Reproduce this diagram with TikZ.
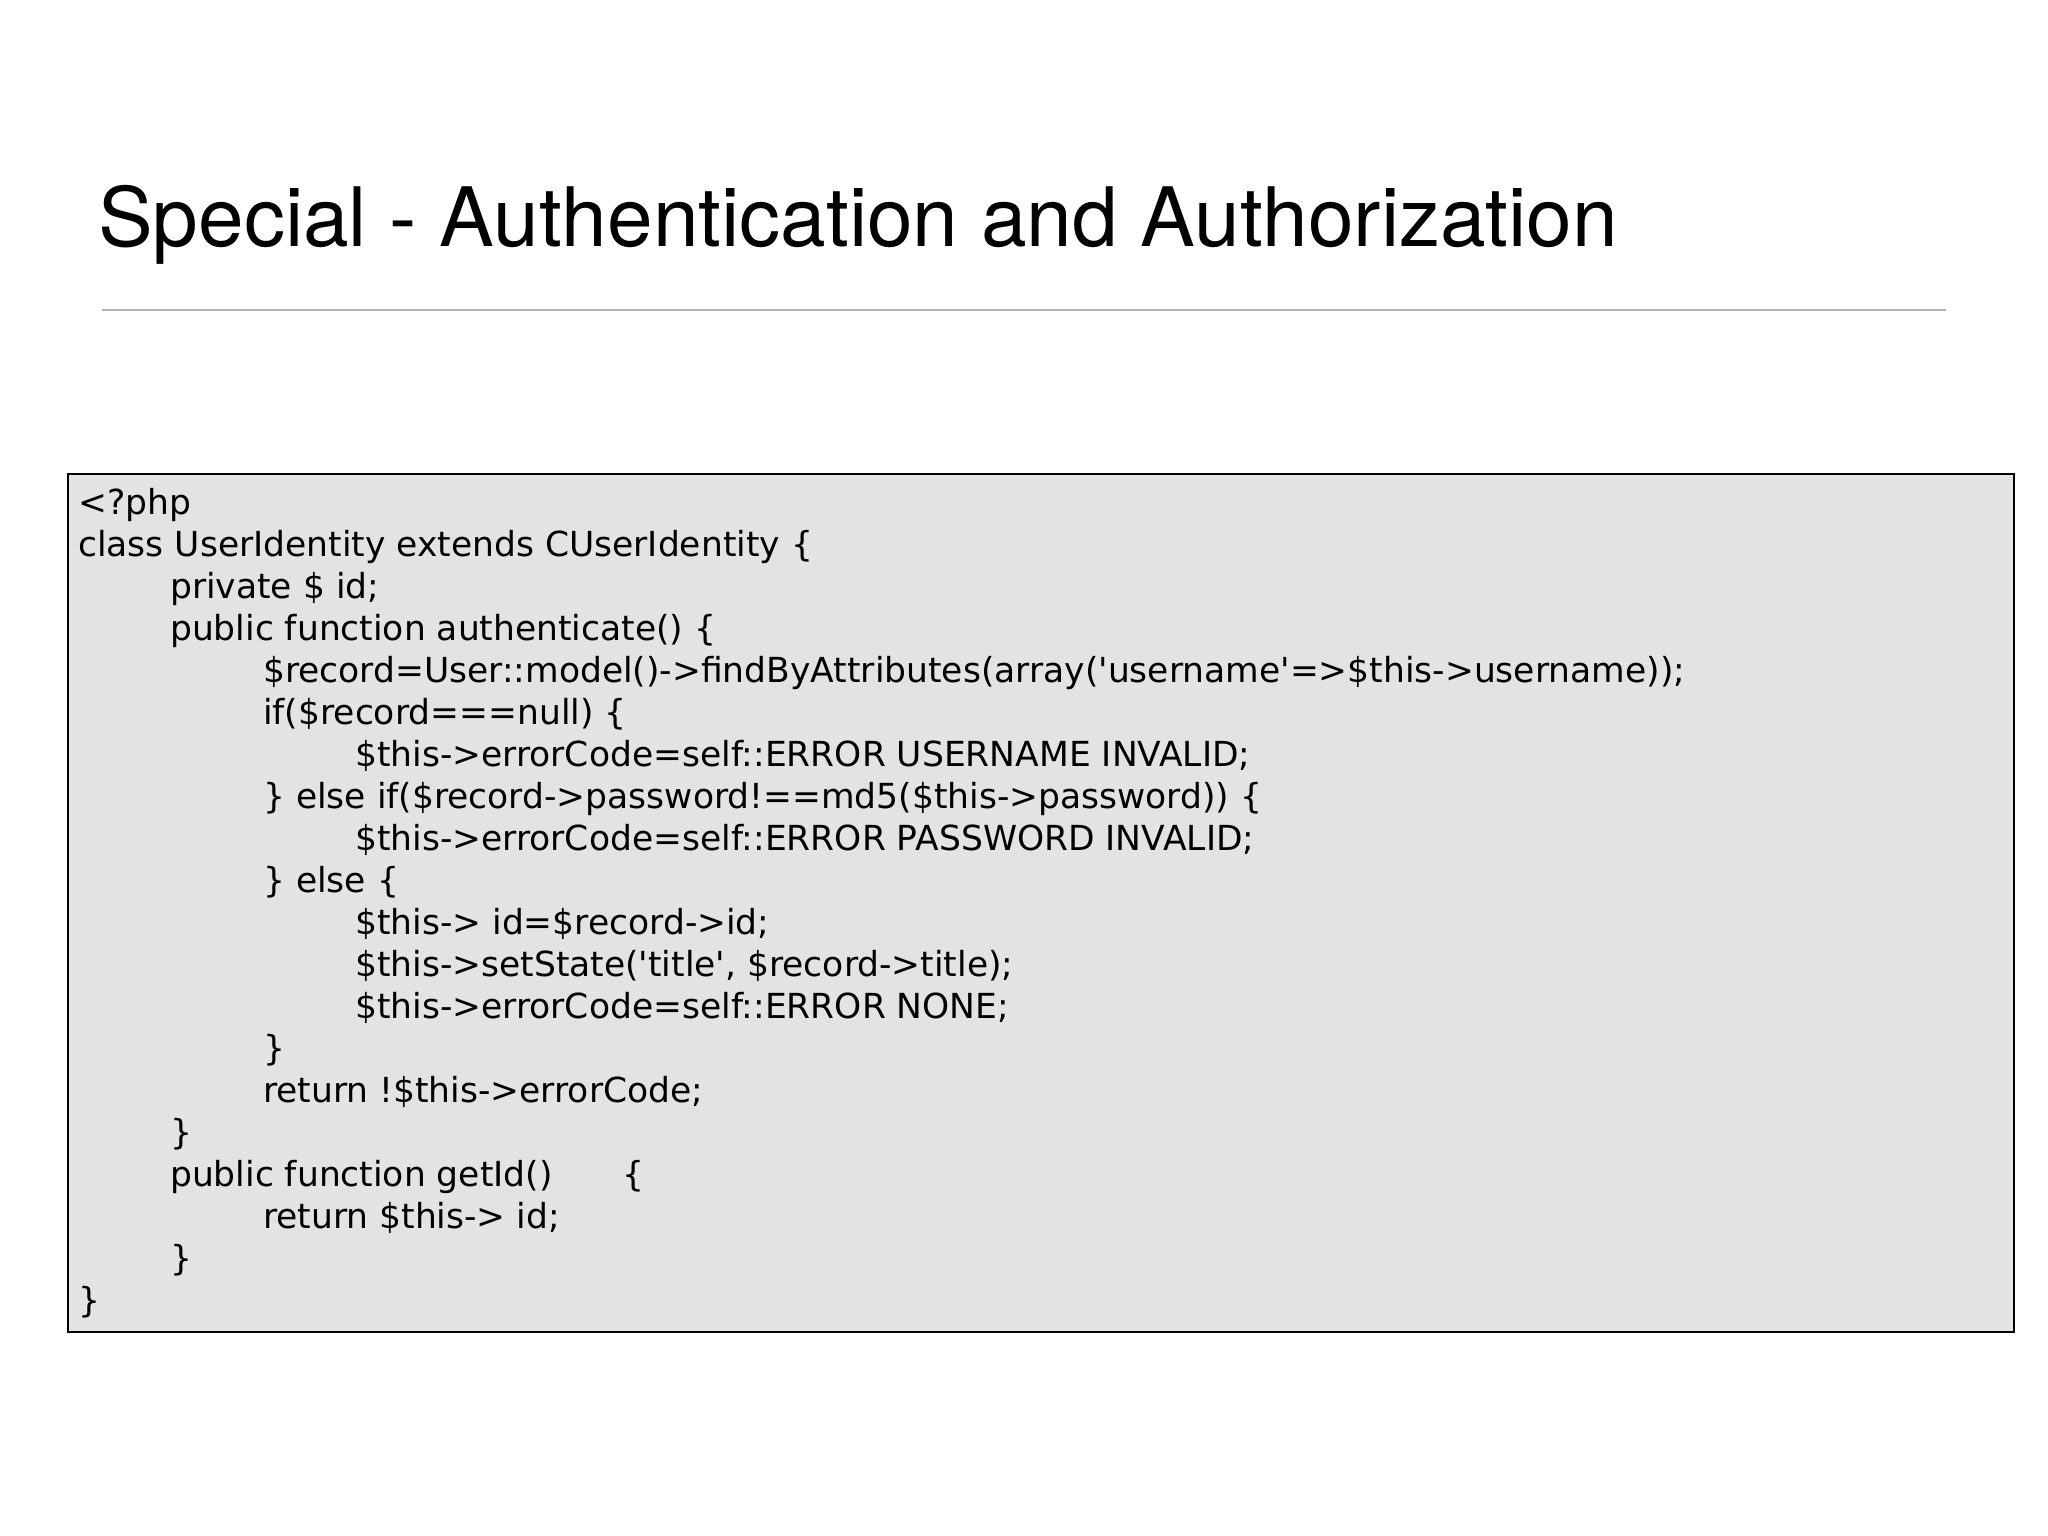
\documentclass[tikz,border=0pt]{standalone}
\usepackage{fontspec}
\setmainfont{TeX Gyre Heros}
\newfontfamily\codefont{DejaVu Sans}
\definecolor{boxgray}{HTML}{E3E3E3}
\definecolor{rulegray}{HTML}{B4B4B4}
\begin{document}
\begin{tikzpicture}[x=1pt,y=-1pt,
  codeline/.style={anchor=base west,inner sep=0pt,font=\codefont\fontsize{34.5}{40}\selectfont}]
\useasboundingbox[fill=white] (0,0) rectangle (2048,1536);
\node[anchor=base west,inner sep=0pt,font=\fontsize{82}{95}\selectfont] (title) at (98,246) {Special - Authentication and Authorization};
\draw[rulegray,line width=2pt] (102,310) coordinate (r1) -- (1946,310) coordinate (r2);
\node[draw=black,line width=1.5pt,fill=boxgray,minimum width=1946pt,minimum height=858pt,anchor=north west,inner sep=0pt] (box) at (67,473) {};
\def\la{78}\def\lb{170}\def\lc{263}\def\ld{355}
\node[codeline] (c1) at (\la,514) {<?php};
\node[codeline] (c2) at (\la,556) {class UserIdentity extends CUserIdentity \{};
\node[codeline] (c3) at (\lb,598) {private \$ id;};
\node[codeline] (c4) at (\lb,640) {public function authenticate() \{};
\node[codeline] (c5) at (\lc,682) {\$record=User::model()->findByAttributes(array('username'=>\$this->username));};
\node[codeline] (c6) at (\lc,724) {if(\$record===null) \{};
\node[codeline] (c7) at (\ld,766) {\$this->errorCode=self::ERROR USERNAME INVALID;};
\node[codeline] (c8) at (\lc,808) {\} else if(\$record->password!==md5(\$this->password)) \{};
\node[codeline] (c9) at (\ld,850) {\$this->errorCode=self::ERROR PASSWORD INVALID;};
\node[codeline] (c10) at (\lc,892) {\} else \{};
\node[codeline] (c11) at (\ld,934) {\$this-> id=\$record->id;};
\node[codeline] (c12) at (\ld,976) {\$this->setState('title', \$record->title);};
\node[codeline] (c13) at (\ld,1018) {\$this->errorCode=self::ERROR NONE;};
\node[codeline] (c14) at (\lc,1060) {\}};
\node[codeline] (c15) at (\lc,1102) {return !\$this->errorCode;};
\node[codeline] (c16) at (\lb,1144) {\}};
\node[codeline] (c17) at (\lb,1186) {public function getId()\hspace{70pt}\{};
\node[codeline] (c18) at (\lc,1228) {return \$this-> id;};
\node[codeline] (c19) at (\lb,1270) {\}};
\node[codeline] (c20) at (\la,1312) {\}};
\end{tikzpicture}
\end{document}
